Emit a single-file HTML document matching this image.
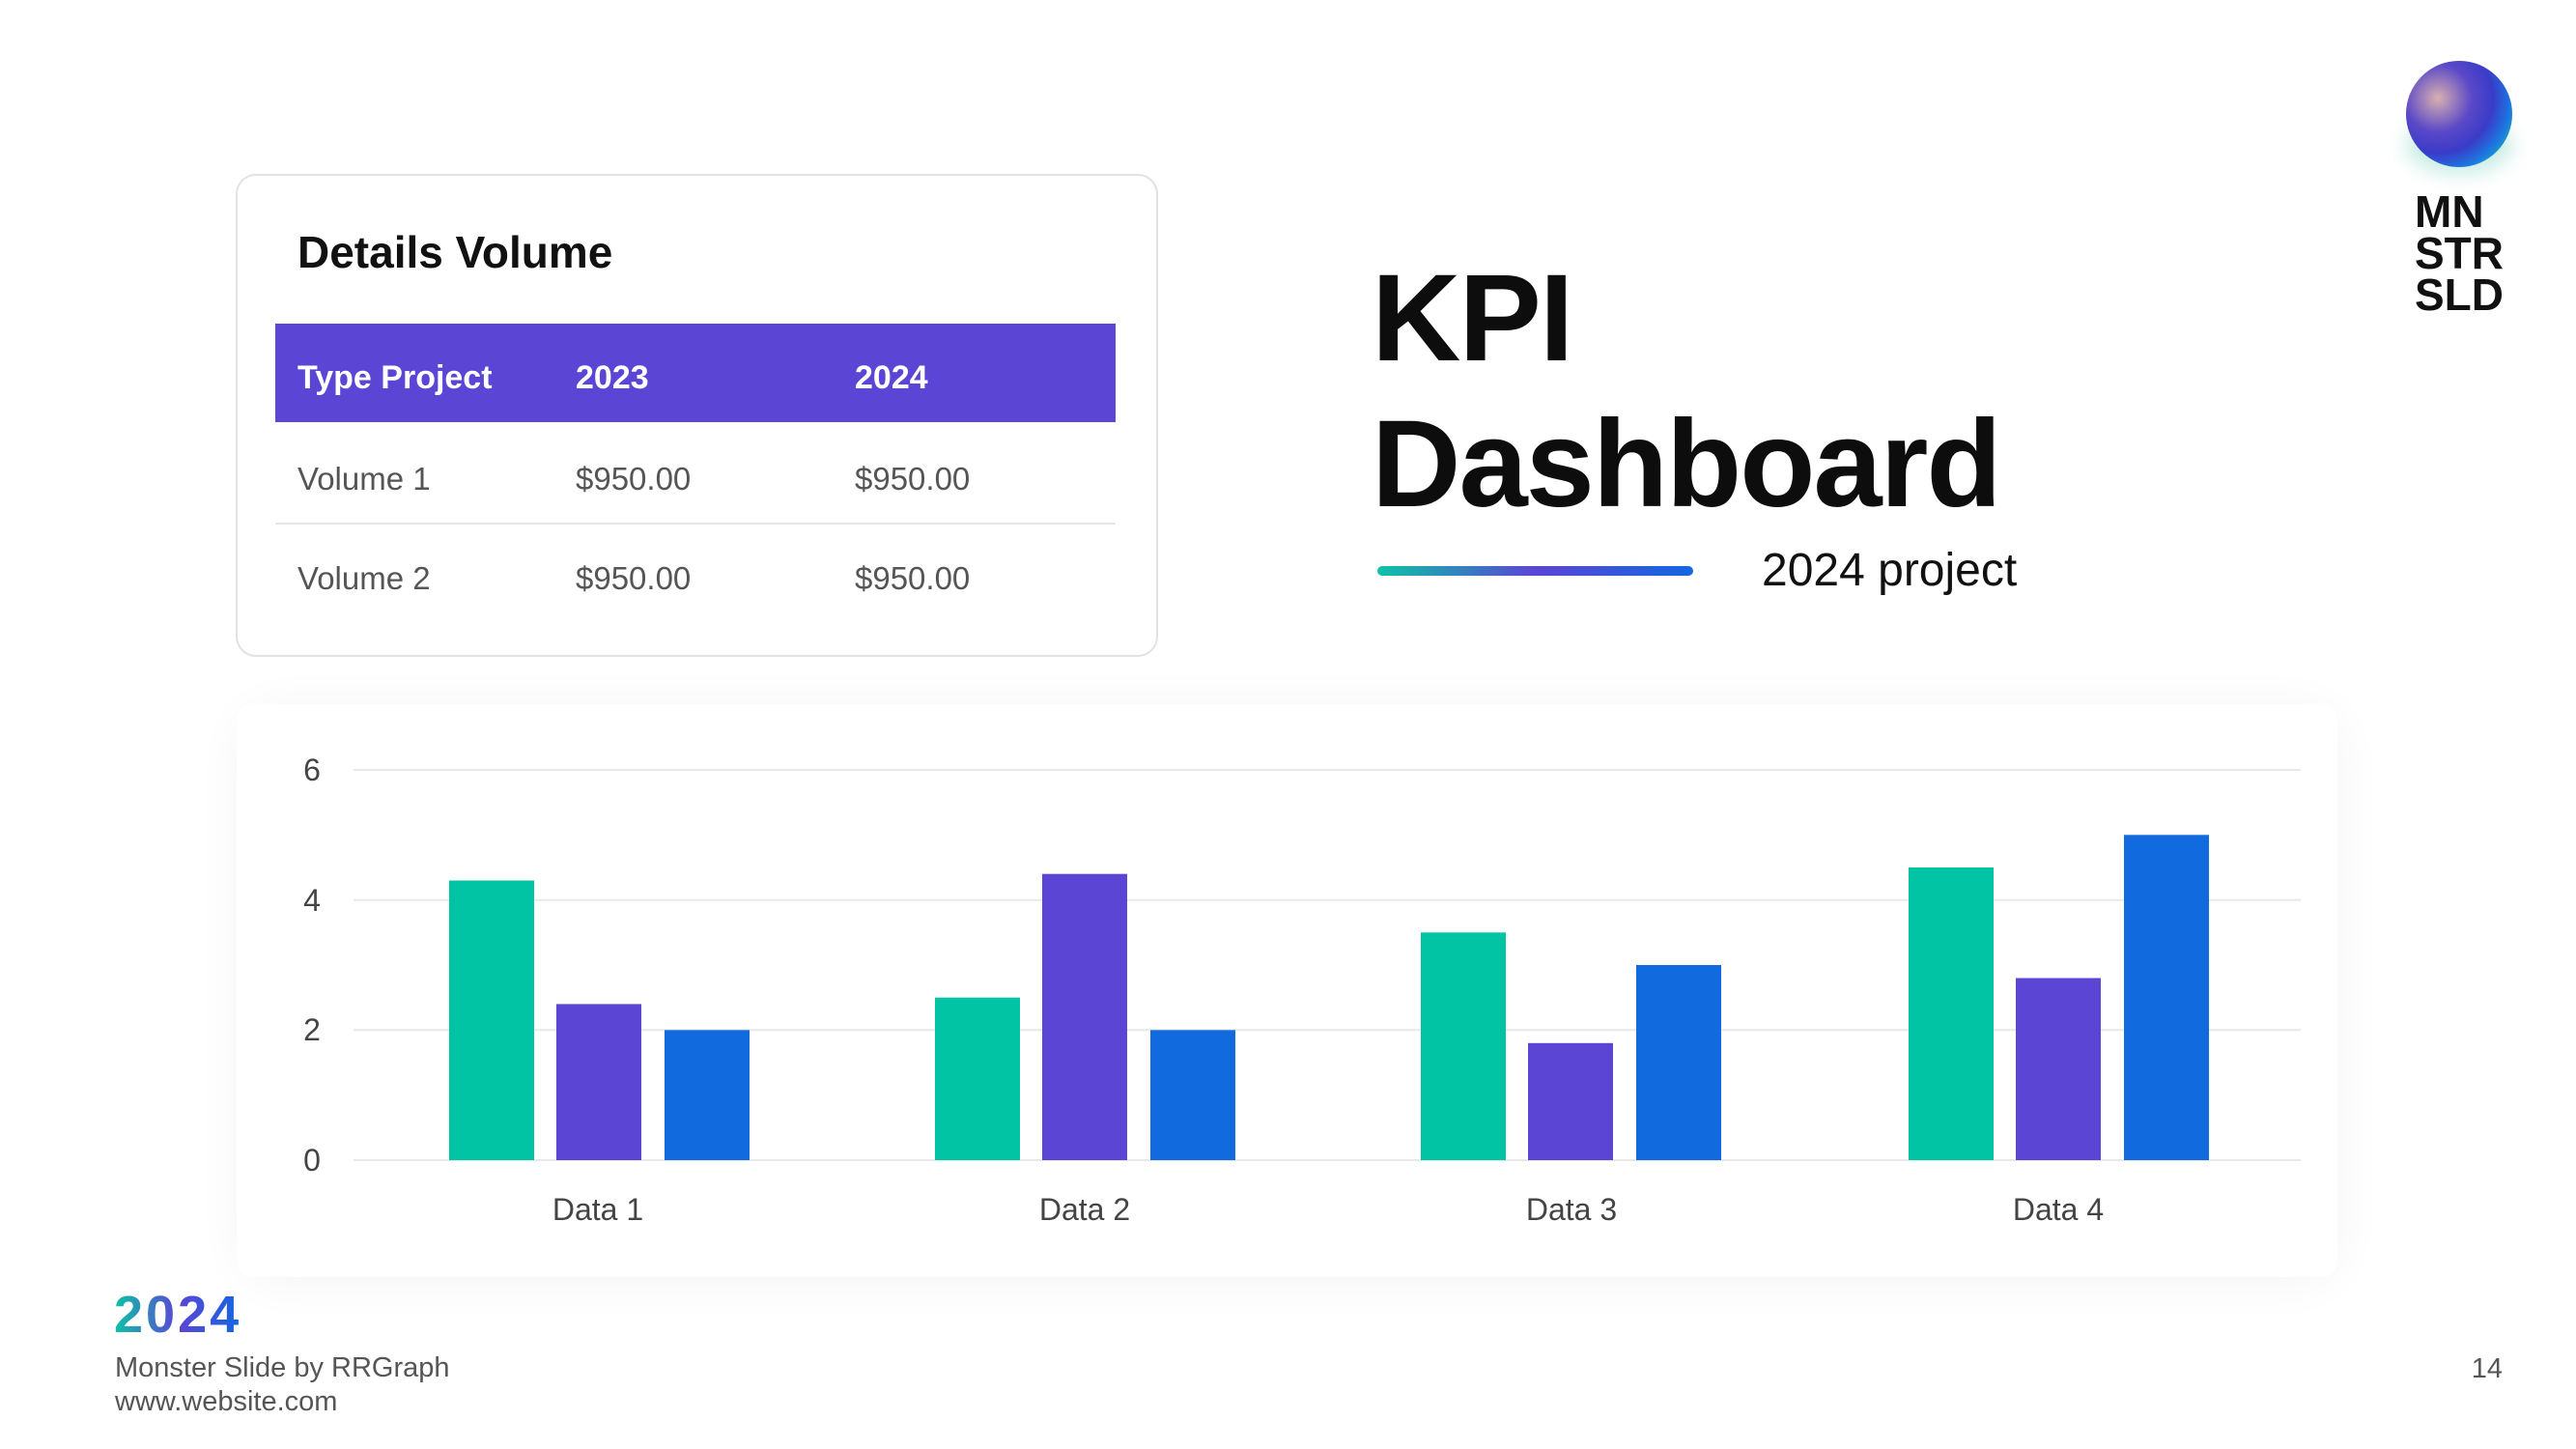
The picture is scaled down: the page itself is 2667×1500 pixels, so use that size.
<!DOCTYPE html>
<html><head><meta charset="utf-8"><style>
html,body{margin:0;padding:0;background:#fff;}
svg{display:block;}
</style></head><body>
<svg width="2667" height="1500" viewBox="0 0 2667 1500" xmlns="http://www.w3.org/2000/svg" font-family="Liberation Sans, sans-serif">
<defs>
<linearGradient id="lg" x1="0" x2="1" y1="0" y2="0"><stop offset="0" stop-color="#0cc3a6"/><stop offset="0.5" stop-color="#5b45d4"/><stop offset="1" stop-color="#1368e0"/></linearGradient>
<radialGradient id="sph" cx="0.3" cy="0.35" r="0.8"><stop offset="0" stop-color="#d8b0b0"/><stop offset="0.4" stop-color="#5a48c8"/><stop offset="0.65" stop-color="#3a3cc8"/><stop offset="0.85" stop-color="#1d74e0"/><stop offset="1" stop-color="#18a8c0"/></radialGradient>
<filter id="sh" x="-20%" y="-30%" width="140%" height="160%"><feGaussianBlur stdDeviation="30"/></filter>
<filter id="sh2" x="-50%" y="-50%" width="200%" height="200%"><feGaussianBlur stdDeviation="10"/></filter>
</defs>
<rect width="2667" height="1500" fill="#fff"/>
<rect x="245" y="181" width="953" height="498" rx="20" fill="#fff" stroke="#e2e2e2" stroke-width="2"/>
<text x="308" y="277" font-size="46" font-weight="bold" fill="#111">Details Volume</text>
<rect x="285" y="335" width="870" height="102" fill="#5b45d4"/>
<g font-size="34" font-weight="bold" fill="#fff">
<text x="308" y="402">Type Project</text><text x="596" y="402">2023</text><text x="885" y="402">2024</text></g>
<g font-size="33" fill="#555">
<text x="308" y="507">Volume 1</text><text x="596" y="507">$950.00</text><text x="885" y="507">$950.00</text>
<text x="308" y="610">Volume 2</text><text x="596" y="610">$950.00</text><text x="885" y="610">$950.00</text></g>
<rect x="285" y="541" width="870" height="2" fill="#e6e6e6"/>
<text x="1420" y="373" font-size="128" font-weight="bold" fill="#0d0d0d" letter-spacing="-2">KPI</text>
<text x="1420" y="524" font-size="128" font-weight="bold" fill="#0d0d0d" letter-spacing="-2">Dashboard</text>
<rect x="1426" y="586" width="327" height="10" rx="5" fill="url(#lg)"/>
<text x="1824" y="606" font-size="48" fill="#111">2024 project</text>
<ellipse cx="2546" cy="150" rx="55" ry="30" fill="#8fd8c8" opacity="0.5" filter="url(#sh2)"/>
<circle cx="2546" cy="118" r="55" fill="url(#sph)"/>
<g font-size="46" font-weight="bold" fill="#111"><text x="2500" y="235">MN</text><text x="2500" y="278">STR</text><text x="2500" y="321">SLD</text></g>
<rect x="260" y="745" width="2150" height="570" rx="20" fill="#000" opacity="0.07" filter="url(#sh)"/>
<rect x="245" y="729" width="2175" height="593" rx="16" fill="#fff"/>
<g stroke="#e8e8e8" stroke-width="2">
<line x1="366" x2="2382" y1="797" y2="797"/><line x1="366" x2="2382" y1="931.7" y2="931.7"/>
<line x1="366" x2="2382" y1="1066.3" y2="1066.3"/><line x1="366" x2="2382" y1="1201" y2="1201"/></g>
<g font-size="32" fill="#444" text-anchor="middle">
<text x="323" y="808">6</text><text x="323" y="943">4</text><text x="323" y="1077">2</text><text x="323" y="1212">0</text>
<text x="619" y="1263">Data 1</text><text x="1123" y="1263">Data 2</text><text x="1627" y="1263">Data 3</text><text x="2131" y="1263">Data 4</text></g>
<g fill="#00c4a3">
<rect x="465" y="911.5" width="88" height="289.5"/><rect x="968" y="1032.7" width="88" height="168.3"/>
<rect x="1471" y="965.3" width="88" height="235.7"/><rect x="1976" y="898" width="88" height="303"/></g>
<g fill="#5b45d4">
<rect x="576" y="1039.4" width="88" height="161.6"/><rect x="1079" y="904.7" width="88" height="296.3"/>
<rect x="1582" y="1079.8" width="88" height="121.2"/><rect x="2087" y="1012.5" width="88" height="188.5"/></g>
<g fill="#126adf">
<rect x="688" y="1066.3" width="88" height="134.7"/><rect x="1191" y="1066.3" width="88" height="134.7"/>
<rect x="1694" y="999" width="88" height="202"/><rect x="2199" y="864.3" width="88" height="336.7"/></g>
<text x="118" y="1379" font-size="54" font-weight="bold" fill="url(#lg)" letter-spacing="3">2024</text>
<text x="119" y="1425" font-size="29" fill="#555">Monster Slide by RRGraph</text>
<text x="119" y="1460" font-size="29" fill="#555">www.website.com</text>
<text x="2591" y="1426" font-size="29" fill="#555" text-anchor="end">14</text>
</svg>
</body></html>
